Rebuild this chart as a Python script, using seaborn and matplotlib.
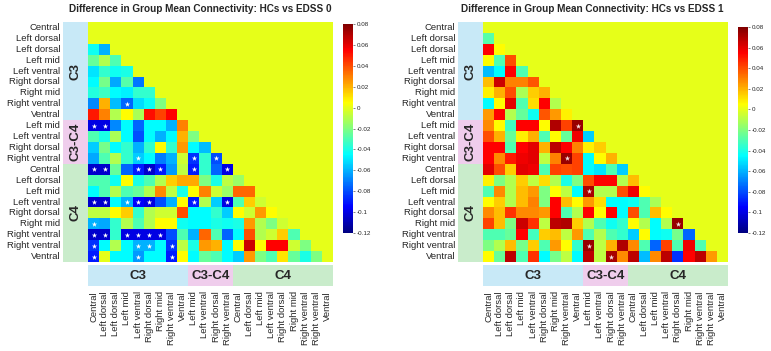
import numpy as np
import matplotlib.pyplot as plt
import seaborn as sns
from matplotlib.patches import Rectangle
from matplotlib.colors import LinearSegmentedColormap

sns.set_style("white")
plt.rcParams['font.family'] = ['Liberation Sans', 'DejaVu Sans']

regions = ["Central", "Left dorsal", "Left dorsal", "Left mid", "Left ventral", "Right dorsal",
           "Right mid", "Right ventral", "Ventral",
           "Left mid", "Left ventral", "Right dorsal", "Right ventral",
           "Central", "Left dorsal", "Left mid", "Left ventral", "Right dorsal", "Right mid",
           "Right ventral", "Right ventral", "Ventral"]
groups = ["C3", "C3-C4", "C4"]
group_sizes = [9, 4, 9]
group_colors = ["#c8e9f7", "#efcdec", "#c9eccb"]

cbar_ticks = [0.08, 0.06, 0.04, 0.02, 0, -0.02, -0.04, -0.06, -0.08, -0.1, -0.12]
cbar_labels = ["0.08", "0.06", "0.04", "0.02", "0", "-0.02", "-0.04", "-0.06", "-0.08", "-0.1", "-0.12"]

# lower triangle, row i holds columns 0..i-1
edss0 = [
    [],
    [0.0],
    [-0.042, -0.06],
    [-0.025, -0.01, -0.03],
    [-0.05, -0.035, -0.042, -0.04],
    [-0.045, -0.022, -0.062, -0.028, -0.072],
    [-0.038, -0.033, -0.045, -0.048, -0.035, -0.035],
    [-0.068, 0.02, -0.058, -0.075, -0.052, -0.043, -0.02],
    [0.05, 0.03, -0.01, 0.005, -0.012, 0.052, 0.042, 0.055],
    [-0.1, -0.1, -0.068, -0.045, -0.075, -0.045, -0.045, -0.06, 0.03],
    [-0.03, -0.04, -0.012, -0.045, -0.08, -0.045, -0.06, -0.045, 0.02, -0.02],
    [-0.055, -0.022, -0.045, -0.035, -0.06, -0.035, 0.005, -0.035, 0.025, -0.045, -0.058],
    [-0.062, -0.03, -0.01, -0.035, -0.055, -0.045, -0.07, -0.06, -0.005, -0.085, -0.035, -0.08],
    [-0.105, -0.105, -0.025, -0.075, -0.09, -0.105, -0.09, -0.065, -0.008, -0.09, -0.035, -0.075, -0.1],
    [-0.03, -0.03, -0.042, 0.005, -0.04, -0.03, -0.01, 0.015, 0.022, 0.022, -0.02, -0.04, -0.008, -0.015],
    [-0.045, -0.03, -0.01, -0.03, -0.025, -0.01, 0.028, -0.008, -0.04, 0.005, 0.03, -0.005, -0.015, 0.035, 0.035],
    [-0.105, -0.105, -0.045, -0.06, -0.095, -0.1, -0.08, -0.06, 0.005, -0.09, -0.01, -0.055, -0.1, -0.03, 0.015, -0.005],
    [-0.008, -0.008, 0.005, 0.015, -0.035, -0.01, -0.005, -0.005, 0.04, -0.045, -0.045, -0.035, -0.055, 0.005, -0.005, 0.025, 0.005],
    [-0.06, -0.062, -0.035, -0.01, -0.03, -0.01, 0.005, 0.005, -0.042, -0.045, -0.045, -0.04, -0.042, -0.04, 0.025, -0.01, -0.02, -0.005],
    [-0.105, -0.105, -0.035, -0.1, -0.1, -0.1, -0.1, -0.08, -0.03, -0.06, 0.035, -0.03, -0.075, -0.045, 0.04, -0.01, -0.005, 0.015, -0.03],
    [-0.085, -0.045, -0.01, -0.045, -0.06, -0.06, -0.045, -0.085, -0.008, -0.04, 0.025, 0.02, -0.045, 0.005, 0.065, 0.005, 0.055, 0.055, -0.005, -0.02],
    [-0.09, 0.0, -0.045, -0.045, -0.065, -0.045, -0.045, -0.09, 0.005, -0.045, -0.025, -0.03, -0.045, -0.055, 0.025, -0.02, -0.03, 0.01, -0.025, -0.04, -0.02],
]
edss0_stars = [(7, 3), (9, 0), (9, 1), (12, 4), (12, 9), (12, 11),
               (13, 0), (13, 1), (13, 4), (13, 5), (13, 6), (13, 9), (13, 12),
               (16, 0), (16, 1), (16, 3), (16, 4), (16, 5), (16, 9), (16, 12),
               (18, 0), (19, 0), (19, 1), (19, 3), (19, 4), (19, 5), (19, 6),
               (20, 0), (20, 4), (20, 5), (20, 7), (21, 0), (21, 4), (21, 7)]

edss1 = [
    [],
    [-0.028],
    [0.055, 0.005],
    [0.005, -0.03, 0.04],
    [-0.058, -0.045, 0.055, -0.03],
    [0.018, 0.065, 0.03, 0.03, 0.038],
    [0.008, 0.02, 0.04, -0.012, 0.015, 0.02],
    [-0.045, 0.005, 0.06, -0.03, 0.012, 0.055, -0.01],
    [0.025, 0.055, -0.01, -0.025, -0.042, 0.038, 0.025, 0.008],
    [0.028, 0.005, -0.033, 0.055, 0.055, 0.005, 0.07, 0.042, 0.075],
    [0.04, 0.02, -0.025, 0.008, 0.02, -0.03, 0.005, -0.025, 0.058, -0.055],
    [0.055, 0.055, -0.03, 0.055, 0.06, 0.02, 0.068, 0.055, 0.03, 0.008, 0.015],
    [0.055, 0.028, 0.05, 0.058, 0.06, -0.008, 0.03, 0.075, 0.042, -0.045, 0.005, 0.02],
    [0.06, 0.04, 0.015, 0.06, 0.058, -0.03, 0.042, 0.04, 0.042, -0.045, -0.05, -0.03, -0.055],
    [0.008, -0.02, -0.01, 0.015, -0.008, 0.012, -0.01, -0.04, -0.02, 0.04, 0.055, 0.055, -0.01, 0.018],
    [-0.03, 0.028, -0.01, 0.018, 0.025, -0.02, 0.005, -0.008, -0.045, 0.072, -0.01, -0.01, 0.04, 0.058, 0.005],
    [0.005, 0.015, -0.01, 0.018, 0.03, -0.02, 0.055, 0.018, 0.005, 0.025, 0.012, -0.045, -0.045, -0.042, -0.03, -0.012],
    [0.028, 0.018, 0.045, 0.028, 0.028, 0.025, 0.055, -0.03, -0.01, 0.055, 0.005, 0.055, -0.045, 0.04, -0.03, 0.018, 0.005],
    [0.042, 0.018, -0.02, 0.065, 0.045, -0.008, 0.068, 0.07, 0.015, -0.01, -0.03, -0.042, -0.035, 0.005, -0.01, -0.045, -0.01, 0.075],
    [-0.03, -0.03, -0.025, 0.055, -0.032, 0.015, 0.018, -0.008, 0.025, -0.03, -0.01, -0.03, -0.035, -0.055, 0.005, -0.045, -0.042, -0.022, -0.075],
    [-0.02, -0.01, 0.018, -0.022, 0.015, -0.03, 0.025, 0.005, -0.035, 0.075, -0.008, 0.02, 0.07, 0.028, -0.03, -0.075, 0.042, -0.03, 0.058, -0.03],
    [0.005, -0.025, 0.068, -0.03, 0.045, -0.045, -0.022, -0.008, -0.045, 0.068, -0.008, 0.072, 0.028, 0.068, -0.058, 0.028, 0.068, -0.085, 0.055, 0.068, 0.025],
]
edss1_stars = [(9, 8), (12, 7), (15, 9), (18, 17), (20, 9), (21, 11)]

# MATLAB-style jet (yellow sits a bit lower than in matplotlib's jet)
mjet = LinearSegmentedColormap.from_list("mjet", [
    (0.0, (0, 0, 0.5)), (0.125, (0, 0, 1)), (0.375, (0, 1, 1)),
    (0.625, (1, 1, 0)), (0.875, (1, 0, 0)), (1.0, (0.5, 0, 0))])


def to_matrix(rows):
    n = len(regions)
    m = np.zeros((n, n))
    for i, row in enumerate(rows):
        m[i, :len(row)] = row
    return m


fig = plt.figure(figsize=(7.71, 3.51), dpi=100)

panels = [
    ("Difference in Group Mean Connectivity: HCs vs EDSS 0", edss0, edss0_stars, "white",
     [88/771, 1-262/351, 245/771, 240/351], [343/771, 1-233/351, 10/771, 209/351], 200/771),
    ("Difference in Group Mean Connectivity: HCs vs EDSS 1", edss1, edss1_stars, "#f6e0e0",
     [483/771, 1-262/351, 245/771, 240/351], [738/771, 1-233/351, 10/771, 206/351], 592/771),
]

for title, rows, stars, star_col, rect, crect, tx in panels:
    ax = fig.add_axes(rect)
    cax = fig.add_axes(crect)
    sns.heatmap(to_matrix(rows), ax=ax, cbar_ax=cax, cmap=mjet, vmin=-0.12, vmax=0.08,
                xticklabels=regions, yticklabels=regions)

    sr = np.array([s[0] for s in stars]) + 0.5
    sc = np.array([s[1] for s in stars]) + 0.5
    ax.scatter(sc, sr, marker="*", s=16, c=star_col, linewidths=0)

    # group bands on the left and below
    start = 0
    for g, size, col in zip(groups, group_sizes, group_colors):
        ax.add_patch(Rectangle((-2.25, start), 2.25, size, facecolor=col, edgecolor="none", clip_on=False))
        ax.text(-1.12, start + size / 2, g, rotation=90, ha="center", va="center",
                fontsize=9.5, weight="bold", clip_on=False)
        ax.add_patch(Rectangle((start, 22.25), size, 1.95, facecolor=col, edgecolor="none", clip_on=False))
        ax.text(start + size / 2, 23.25, g, ha="center", va="center", fontsize=9.5, weight="bold")
        start += size

    ax.tick_params(axis="y", length=0, pad=20, labelsize=6.8)
    ax.tick_params(axis="x", length=0, pad=21, labelsize=6.8)
    plt.setp(ax.get_yticklabels(), rotation=0)
    plt.setp(ax.get_xticklabels(), rotation=90)

    cax.set_yticks(cbar_ticks)
    cax.set_yticklabels(cbar_labels)
    cax.tick_params(labelsize=4.5, length=1.5, width=0.4, pad=1)

    fig.text(tx, 1 - 9/351, title, ha="center", va="center", fontsize=7.2, weight="bold")

plt.savefig("out.png", dpi=100)
